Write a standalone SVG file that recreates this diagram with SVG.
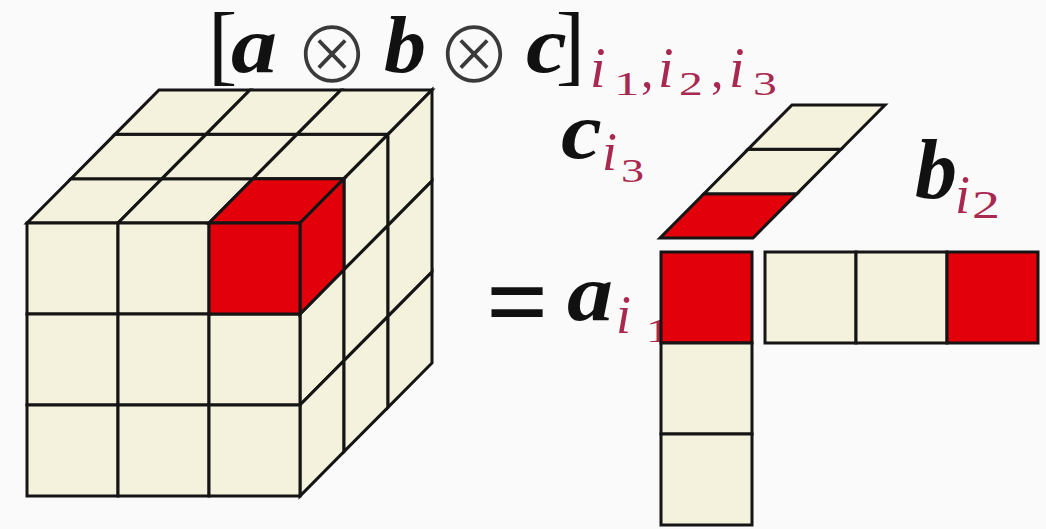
<svg xmlns="http://www.w3.org/2000/svg" width="1046" height="529" viewBox="0 0 1046 529">
<style>
.c{fill:#f4f2dc;stroke:#151515;stroke-width:3;stroke-linejoin:miter}
.r{fill:#e2000b;stroke:#151515;stroke-width:3;stroke-linejoin:miter}
.m{font-family:"Liberation Serif",serif;font-weight:bold;font-style:italic;fill:#111}
.s{font-family:"Liberation Serif",serif;font-style:italic;fill:#a8284f}
.d{font-family:"Liberation Serif",serif;fill:#a8284f}
.o{font-family:"Noto Sans CJK SC","DejaVu Sans",sans-serif;font-weight:300;fill:#3a3a3a}
.br{font-family:"Liberation Serif",serif;fill:#111}
</style>
<rect width="1046" height="529" fill="#fafafa"/>
<g id="title">
<text class="br" x="208" y="74" font-size="88">[</text>
<text class="m" transform="translate(231,72) scale(1.15,1)" font-size="80">a</text>
<text class="o" x="332" y="83" font-size="76" text-anchor="middle">⊗</text>
<text class="m" transform="translate(384,72) scale(1.05,1)" font-size="80">b</text>
<text class="o" x="474" y="83" font-size="76" text-anchor="middle">⊗</text>
<text class="m" transform="translate(526,72) scale(1.15,1)" font-size="80">c</text>
<text class="br" x="585" y="74" font-size="88" text-anchor="end">]</text>
<text class="s" x="590" y="87" font-size="56">i</text>
<text class="d" transform="translate(614,95) scale(1.5,1)" font-size="34">1</text>
<text class="d" x="641" y="87" font-size="50">,</text>
<text class="s" x="658" y="87" font-size="56">i</text>
<text class="d" transform="translate(679,95) scale(1.4,1)" font-size="34">2</text>
<text class="d" x="711" y="87" font-size="50">,</text>
<text class="s" x="729" y="87" font-size="56">i</text>
<text class="d" transform="translate(753,95) scale(1.4,1)" font-size="34">3</text>
</g>
<g id="cube">
<polygon class="c" points="27,223 118,223 162,178.67 71,178.67"/>
<polygon class="c" points="118,223 209,223 253,178.67 162,178.67"/>
<polygon class="c" points="71,178.67 162,178.67 206,134.33 115,134.33"/>
<polygon class="c" points="162,178.67 253,178.67 297,134.33 206,134.33"/>
<polygon class="c" points="253,178.67 344,178.67 388,134.33 297,134.33"/>
<polygon class="c" points="115,134.33 206,134.33 250,90 159,90"/>
<polygon class="c" points="206,134.33 297,134.33 341,90 250,90"/>
<polygon class="c" points="297,134.33 388,134.33 432,90 341,90"/>
<polygon class="c" points="300,314 344,269.67 344,360.67 300,405"/>
<polygon class="c" points="300,405 344,360.67 344,451.67 300,496"/>
<polygon class="c" points="344,178.67 388,134.33 388,225.33 344,269.67"/>
<polygon class="c" points="344,269.67 388,225.33 388,316.33 344,360.67"/>
<polygon class="c" points="344,360.67 388,316.33 388,407.33 344,451.67"/>
<polygon class="c" points="388,134.33 432,90 432,181 388,225.33"/>
<polygon class="c" points="388,225.33 432,181 432,272 388,316.33"/>
<polygon class="c" points="388,316.33 432,272 432,363 388,407.33"/>
<rect class="c" x="27" y="223" width="91" height="91"/>
<rect class="c" x="118" y="223" width="91" height="91"/>
<rect class="c" x="27" y="314" width="91" height="91"/>
<rect class="c" x="118" y="314" width="91" height="91"/>
<rect class="c" x="209" y="314" width="91" height="91"/>
<rect class="c" x="27" y="405" width="91" height="91"/>
<rect class="c" x="118" y="405" width="91" height="91"/>
<rect class="c" x="209" y="405" width="91" height="91"/>
<g id="red-cell">
<polygon class="r" points="209,223 300,223 344,178.67 253,178.67"/>
<polygon class="r" points="300,223 344,178.67 344,269.67 300,314"/>
<rect class="r" x="209" y="223" width="91" height="91"/>
</g>
</g>
<g id="label-c">
<text class="m" transform="translate(561,158) scale(1.15,1)" font-size="80">c</text>
<text class="s" x="602" y="170" font-size="54">i</text>
<text class="d" transform="translate(621,182) scale(1.4,1)" font-size="33">3</text>
</g>
<g id="label-b">
<text class="m" x="915" y="198" font-size="84">b</text>
<text class="s" x="955" y="213" font-size="54">i</text>
<text class="d" transform="translate(972,218) scale(1.4,1)" font-size="40">2</text>
</g>
<g id="label-a">
<text class="br" x="486" y="339" font-size="110" font-weight="bold">=</text>
<text class="m" transform="translate(567,320) scale(1.15,1)" font-size="80">a</text>
<text class="s" x="616" y="333" font-size="54">i</text>
<text class="d" transform="translate(646,342) scale(1.4,1)" font-size="34">1</text>
</g>
<g id="vector-c">
<polygon class="r" points="660,238 753,238 797,193.67 704,193.67"/>
<polygon class="c" points="704,193.67 797,193.67 841,149.33 748,149.33"/>
<polygon class="c" points="748,149.33 841,149.33 885,105 792,105"/>
</g>
<g id="vector-a">
<rect class="r" x="661" y="252" width="91" height="91"/>
<rect class="c" x="661" y="343" width="91" height="91"/>
<rect class="c" x="661" y="434" width="91" height="91"/>
</g>
<g id="vector-b">
<rect class="c" x="765" y="252" width="91" height="91"/>
<rect class="c" x="856" y="252" width="91" height="91"/>
<rect class="r" x="947" y="252" width="91" height="91"/>
</g>
</svg>
